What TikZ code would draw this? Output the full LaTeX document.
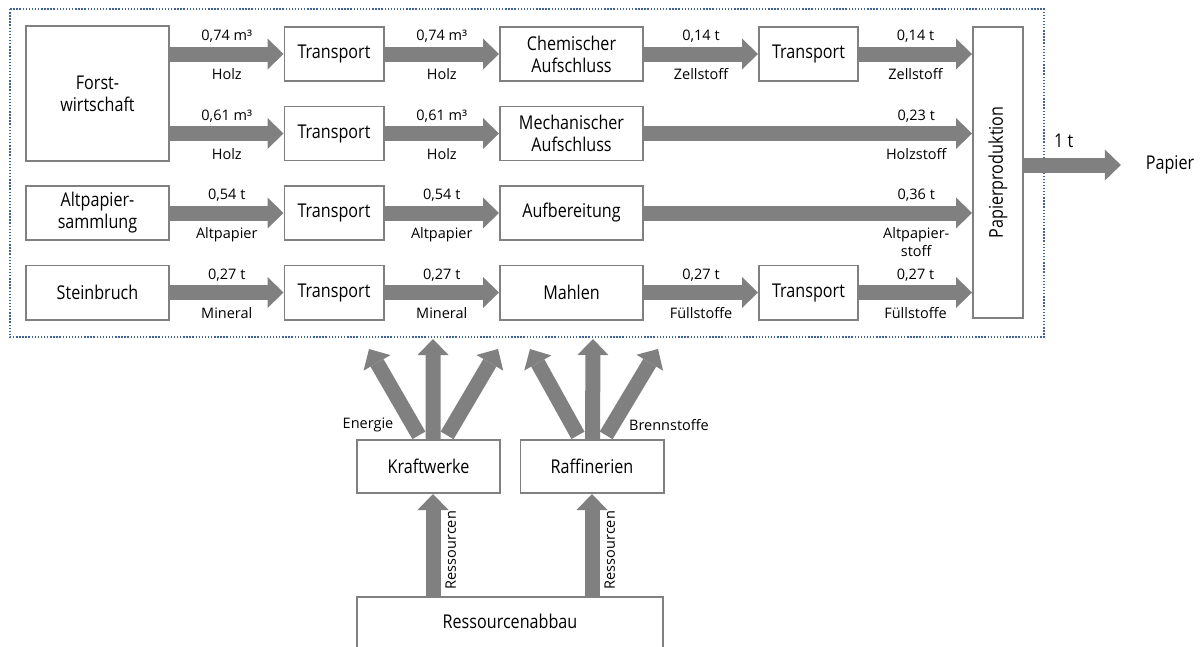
\documentclass[tikz,border=0pt]{standalone}
\usepackage{fontspec}
\setmainfont{Open Sans}
\newfontfamily\boxfont{Open Sans}[FakeStretch=0.85]
\usetikzlibrary{positioning,calc,arrows.meta}
\definecolor{flowgray}{RGB}{128,128,128}
\definecolor{frameblue}{RGB}{63,98,153}

\begin{document}
\begin{tikzpicture}[x=0.025cm,y=-0.025cm,
  every node/.style={font=\boxfont\fontsize{13.5}{15.6}\selectfont},
  stage/.style={rectangle,draw=flowgray,line width=1.4pt,fill=white,align=center,
    minimum width=2.475cm,minimum height=1.35cm,inner sep=1pt},
  wide/.style={stage,minimum width=3.575cm},
  flow/.style={draw=flowgray,line width=0.375cm,
    -{Triangle[length=0.4cm,width=0.775cm,line width=0pt]}},
  lbl/.style={font=\rmfamily\fontsize{10.3}{12.8}\selectfont,outer sep=0pt},
  amount/.style={lbl,anchor=south,inner sep=0pt,yshift=8pt},
  material/.style={lbl,anchor=north,inner sep=0pt,yshift=-10.5pt,align=center}]
  \path[use as bounding box,clip] (0,0) rectangle (1200,646);
  % system boundary
  \draw[frameblue,line width=1.3pt,dash pattern=on 1pt off 1.2pt] (10,9) rectangle (1044,337);

  % sources
  \node[wide,minimum height=3.375cm] (forst) at (97.5,93.5) {Forst-\\wirtschaft};
  \node[wide] (alt) at (97.5,213) {Altpapier-\\sammlung};
  \node[wide] (stein) at (97.5,292.5) {Steinbruch};
  % transport to the mills
  \node[stage] (t1) at (334,54) {Transport};
  \node[stage] (t2) at (334,133.5) {Transport};
  \node[stage] (t3) at (334,213) {Transport};
  \node[stage] (t4) at (334,292.5) {Transport};
  % processing
  \node[wide] (chem) at (571.5,54) {Chemischer\\Aufschluss};
  \node[wide] (mech) at (571.5,133.5) {Mechanischer\\Aufschluss};
  \node[wide] (aufb) at (571.5,213) {Aufbereitung};
  \node[wide] (mahl) at (571.5,292.5) {Mahlen};
  % transport to the paper mill
  \node[stage] (tz) at (808.5,54) {Transport};
  \node[stage] (tf) at (808.5,292.5) {Transport};
  \node[stage,minimum width=1.25cm,minimum height=7.275cm] (pp) at (998,172.5)
    {\rotatebox{90}{Papierproduktion}};
  \node (papier) at (1170,165) {Papier};

  % Zellstoff
  \draw[flow] (forst.east |- t1) -- node[amount] {0,74 m³} node[material] {Holz} (t1);
  \draw[flow] (t1) -- node[amount] {0,74 m³} node[material] {Holz} (chem);
  \draw[flow] (chem) -- node[amount] {0,14 t} node[material] {Zellstoff} (tz);
  \draw[flow] (tz) -- node[amount] {0,14 t} node[material] {Zellstoff} (tz -| pp.west);
  % Holzstoff
  \draw[flow] (forst.east |- t2) -- node[amount] {0,61 m³} node[material] {Holz} (t2);
  \draw[flow] (t2) -- node[amount] {0,61 m³} node[material] {Holz} (mech);
  \draw[flow] (mech) -- node[amount,pos=0.83] {0,23 t} node[material,pos=0.83] {Holzstoff} (mech -| pp.west);
  % Altpapier
  \draw[flow] (alt) -- node[amount] {0,54 t} node[material] {Altpapier} (t3);
  \draw[flow] (t3) -- node[amount] {0,54 t} node[material] {Altpapier} (aufb);
  \draw[flow] (aufb) -- node[amount,pos=0.83] {0,36 t} node[material,pos=0.83] {Altpapier-\\stoff} (aufb -| pp.west);
  % Fuellstoffe
  \draw[flow] (stein) -- node[amount] {0,27 t} node[material] {Mineral} (t4);
  \draw[flow] (t4) -- node[amount] {0,27 t} node[material] {Mineral} (mahl);
  \draw[flow] (mahl) -- node[amount] {0,27 t} node[material] {Füllstoffe} (tf);
  \draw[flow] (tf) -- node[amount] {0,27 t} node[material] {Füllstoffe} (tf -| pp.west);
  % product
  \draw[flow,shorten >=0.5cm] (pp.east |- papier) -- node[anchor=south,inner sep=0pt,outer sep=0pt,yshift=12.4pt,pos=0.34] {1 t} (papier);

  % energy and fuel supply
  \node[wide,minimum height=1.325cm] (kraft) at (428.5,466.5) {Kraftwerke};
  \node[wide,minimum height=1.325cm] (raff) at (592,466.5) {Raffinerien};
  \node[stage,anchor=north,minimum width=7.65cm,text height=0.775cm,text depth=1cm,
    inner ysep=0pt] (abbau) at (510,596) {Ressourcenabbau};
  \coordinate (kx) at ($(kraft.south)+(4.5,0)$);
  \draw[flow] (abbau.north -| kx) -- node[lbl,pos=0.45,sloped,below=5.5pt] {Ressourcen} (kx);
  \draw[flow] (abbau.north -| raff.south) -- node[lbl,pos=0.45,sloped,below=5.5pt] {Ressourcen} (raff.south);

  \coordinate (e1) at (369,349);
  \coordinate (e2) at (433,339);
  \coordinate (e3) at (498,349);
  \coordinate (b1) at (530,349);
  \coordinate (b2) at (593,339);
  \coordinate (b3) at (658,349);
  \draw[flow,shorten <=3pt] ($(kraft.north)+(-7.5,0)$) -- (e1);
  \draw[flow] ($(kraft.north)+(4.5,0)$) -- (e2);
  \draw[flow,shorten <=3pt] ($(kraft.north)+(16.5,0)$) -- (e3);
  \draw[flow,shorten <=3pt] ($(raff.north)+(-12,0)$) -- (b1);
  \draw[flow] ($(raff.north)+(0.5,0)$) -- (b2);
  \draw[flow,shorten <=3pt] ($(raff.north)+(12,0)$) -- (b3);
  \node[lbl] (energie) at (368,425) {Energie};
  \node[lbl] (brenn) at (669,425) {Brennstoffe};
\end{tikzpicture}
\end{document}
